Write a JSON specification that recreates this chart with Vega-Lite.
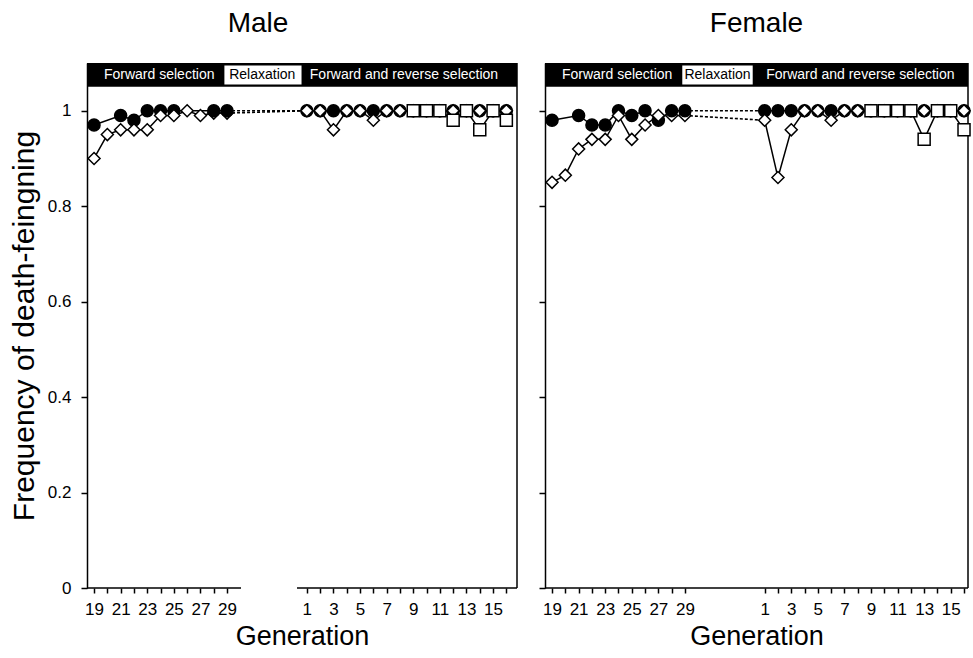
{
  "$schema": "https://vega.github.io/schema/vega-lite/v6.json",
  "padding": {"left": 9, "top": 10, "right": 2, "bottom": 2},
  "datasets": {
    "pts": [
      {"sex":"Male","series":"A","phase":"FS","generation":19,"step":0,"freq":0.97},
      {"sex":"Male","series":"A","phase":"FS","generation":21,"step":2,"freq":0.99},
      {"sex":"Male","series":"A","phase":"FS","generation":22,"step":3,"freq":0.98},
      {"sex":"Male","series":"A","phase":"FS","generation":23,"step":4,"freq":1.0},
      {"sex":"Male","series":"A","phase":"FS","generation":24,"step":5,"freq":1.0},
      {"sex":"Male","series":"A","phase":"FS","generation":25,"step":6,"freq":1.0},
      {"sex":"Male","series":"A","phase":"FRS","generation":1,"step":16,"freq":1.0},
      {"sex":"Male","series":"A","phase":"FRS","generation":2,"step":17,"freq":1.0},
      {"sex":"Male","series":"A","phase":"FRS","generation":3,"step":18,"freq":1.0},
      {"sex":"Male","series":"A","phase":"FRS","generation":4,"step":19,"freq":1.0},
      {"sex":"Male","series":"A","phase":"FRS","generation":5,"step":20,"freq":1.0},
      {"sex":"Male","series":"A","phase":"FRS","generation":6,"step":21,"freq":1.0},
      {"sex":"Male","series":"A","phase":"FRS","generation":7,"step":22,"freq":1.0},
      {"sex":"Male","series":"A","phase":"FRS","generation":8,"step":23,"freq":1.0},
      {"sex":"Male","series":"A","phase":"FRS","generation":9,"step":24,"freq":1.0},
      {"sex":"Male","series":"A","phase":"FRS","generation":10,"step":25,"freq":1.0},
      {"sex":"Male","series":"A","phase":"FRS","generation":11,"step":26,"freq":1.0},
      {"sex":"Male","series":"A","phase":"FRS","generation":12,"step":27,"freq":1.0},
      {"sex":"Male","series":"A","phase":"FRS","generation":13,"step":28,"freq":1.0},
      {"sex":"Male","series":"A","phase":"FRS","generation":14,"step":29,"freq":1.0},
      {"sex":"Male","series":"A","phase":"FRS","generation":15,"step":30,"freq":1.0},
      {"sex":"Male","series":"A","phase":"FRS","generation":16,"step":31,"freq":1.0},
      {"sex":"Male","series":"B","phase":"FS","generation":19,"step":0,"freq":0.90},
      {"sex":"Male","series":"B","phase":"FS","generation":20,"step":1,"freq":0.95},
      {"sex":"Male","series":"B","phase":"FS","generation":21,"step":2,"freq":0.96},
      {"sex":"Male","series":"B","phase":"FS","generation":22,"step":3,"freq":0.96},
      {"sex":"Male","series":"B","phase":"FS","generation":23,"step":4,"freq":0.96},
      {"sex":"Male","series":"B","phase":"FS","generation":24,"step":5,"freq":0.99},
      {"sex":"Male","series":"B","phase":"FS","generation":25,"step":6,"freq":0.99},
      {"sex":"Male","series":"B","phase":"FS","generation":26,"step":7,"freq":1.0},
      {"sex":"Male","series":"B","phase":"FS","generation":27,"step":8,"freq":0.99},
      {"sex":"Male","series":"B","phase":"FS","generation":28,"step":9,"freq":0.995},
      {"sex":"Male","series":"B","phase":"FS","generation":29,"step":10,"freq":0.995},
      {"sex":"Male","series":"B","phase":"FRS","generation":1,"step":16,"freq":1.0},
      {"sex":"Male","series":"B","phase":"FRS","generation":2,"step":17,"freq":1.0},
      {"sex":"Male","series":"B","phase":"FRS","generation":3,"step":18,"freq":0.96},
      {"sex":"Male","series":"B","phase":"FRS","generation":4,"step":19,"freq":1.0},
      {"sex":"Male","series":"B","phase":"FRS","generation":5,"step":20,"freq":1.0},
      {"sex":"Male","series":"B","phase":"FRS","generation":6,"step":21,"freq":0.98},
      {"sex":"Male","series":"B","phase":"FRS","generation":7,"step":22,"freq":1.0},
      {"sex":"Male","series":"B","phase":"FRS","generation":8,"step":23,"freq":1.0},
      {"sex":"Male","series":"B","phase":"FRS","generation":9,"step":24,"freq":1.0},
      {"sex":"Male","series":"B","phase":"FRS","generation":10,"step":25,"freq":1.0},
      {"sex":"Male","series":"B","phase":"FRS","generation":11,"step":26,"freq":1.0},
      {"sex":"Male","series":"B","phase":"FRS","generation":12,"step":27,"freq":1.0},
      {"sex":"Male","series":"B","phase":"FRS","generation":13,"step":28,"freq":1.0},
      {"sex":"Male","series":"B","phase":"FRS","generation":14,"step":29,"freq":1.0},
      {"sex":"Male","series":"B","phase":"FRS","generation":15,"step":30,"freq":1.0},
      {"sex":"Male","series":"B","phase":"FRS","generation":16,"step":31,"freq":1.0},
      {"sex":"Male","series":"C","phase":"FRS","generation":9,"step":24,"freq":1.0},
      {"sex":"Male","series":"C","phase":"FRS","generation":10,"step":25,"freq":1.0},
      {"sex":"Male","series":"C","phase":"FRS","generation":11,"step":26,"freq":1.0},
      {"sex":"Male","series":"C","phase":"FRS","generation":12,"step":27,"freq":0.98},
      {"sex":"Male","series":"C","phase":"FRS","generation":13,"step":28,"freq":1.0},
      {"sex":"Male","series":"C","phase":"FRS","generation":14,"step":29,"freq":0.96},
      {"sex":"Male","series":"C","phase":"FRS","generation":15,"step":30,"freq":1.0},
      {"sex":"Male","series":"C","phase":"FRS","generation":16,"step":31,"freq":0.98},
      {"sex":"Male","series":"A","phase":"FS","generation":28,"step":9,"freq":1.0},
      {"sex":"Male","series":"A","phase":"FS","generation":29,"step":10,"freq":1.0},

      {"sex":"Female","series":"A","phase":"FS","generation":19,"step":0,"freq":0.98},
      {"sex":"Female","series":"A","phase":"FS","generation":21,"step":2,"freq":0.99},
      {"sex":"Female","series":"A","phase":"FS","generation":22,"step":3,"freq":0.97},
      {"sex":"Female","series":"A","phase":"FS","generation":23,"step":4,"freq":0.97},
      {"sex":"Female","series":"A","phase":"FS","generation":24,"step":5,"freq":1.0},
      {"sex":"Female","series":"A","phase":"FS","generation":25,"step":6,"freq":0.99},
      {"sex":"Female","series":"A","phase":"FS","generation":26,"step":7,"freq":1.0},
      {"sex":"Female","series":"A","phase":"FS","generation":27,"step":8,"freq":0.98},
      {"sex":"Female","series":"A","phase":"FRS","generation":1,"step":16,"freq":1.0},
      {"sex":"Female","series":"A","phase":"FRS","generation":2,"step":17,"freq":1.0},
      {"sex":"Female","series":"A","phase":"FRS","generation":3,"step":18,"freq":1.0},
      {"sex":"Female","series":"A","phase":"FRS","generation":4,"step":19,"freq":1.0},
      {"sex":"Female","series":"A","phase":"FRS","generation":5,"step":20,"freq":1.0},
      {"sex":"Female","series":"A","phase":"FRS","generation":6,"step":21,"freq":1.0},
      {"sex":"Female","series":"A","phase":"FRS","generation":7,"step":22,"freq":1.0},
      {"sex":"Female","series":"A","phase":"FRS","generation":8,"step":23,"freq":1.0},
      {"sex":"Female","series":"A","phase":"FRS","generation":9,"step":24,"freq":1.0},
      {"sex":"Female","series":"A","phase":"FRS","generation":10,"step":25,"freq":1.0},
      {"sex":"Female","series":"A","phase":"FRS","generation":11,"step":26,"freq":1.0},
      {"sex":"Female","series":"A","phase":"FRS","generation":12,"step":27,"freq":1.0},
      {"sex":"Female","series":"A","phase":"FRS","generation":13,"step":28,"freq":1.0},
      {"sex":"Female","series":"A","phase":"FRS","generation":14,"step":29,"freq":1.0},
      {"sex":"Female","series":"A","phase":"FRS","generation":15,"step":30,"freq":1.0},
      {"sex":"Female","series":"A","phase":"FRS","generation":16,"step":31,"freq":1.0},
      {"sex":"Female","series":"B","phase":"FS","generation":19,"step":0,"freq":0.85},
      {"sex":"Female","series":"B","phase":"FS","generation":20,"step":1,"freq":0.865},
      {"sex":"Female","series":"B","phase":"FS","generation":21,"step":2,"freq":0.92},
      {"sex":"Female","series":"B","phase":"FS","generation":22,"step":3,"freq":0.94},
      {"sex":"Female","series":"B","phase":"FS","generation":23,"step":4,"freq":0.94},
      {"sex":"Female","series":"B","phase":"FS","generation":24,"step":5,"freq":0.99},
      {"sex":"Female","series":"B","phase":"FS","generation":25,"step":6,"freq":0.94},
      {"sex":"Female","series":"B","phase":"FS","generation":26,"step":7,"freq":0.97},
      {"sex":"Female","series":"B","phase":"FS","generation":27,"step":8,"freq":0.99},
      {"sex":"Female","series":"B","phase":"FS","generation":28,"step":9,"freq":0.99},
      {"sex":"Female","series":"B","phase":"FS","generation":29,"step":10,"freq":0.99},
      {"sex":"Female","series":"B","phase":"FRS","generation":1,"step":16,"freq":0.98},
      {"sex":"Female","series":"B","phase":"FRS","generation":2,"step":17,"freq":0.86},
      {"sex":"Female","series":"B","phase":"FRS","generation":3,"step":18,"freq":0.96},
      {"sex":"Female","series":"B","phase":"FRS","generation":4,"step":19,"freq":1.0},
      {"sex":"Female","series":"B","phase":"FRS","generation":5,"step":20,"freq":1.0},
      {"sex":"Female","series":"B","phase":"FRS","generation":6,"step":21,"freq":0.98},
      {"sex":"Female","series":"B","phase":"FRS","generation":7,"step":22,"freq":1.0},
      {"sex":"Female","series":"B","phase":"FRS","generation":8,"step":23,"freq":1.0},
      {"sex":"Female","series":"B","phase":"FRS","generation":9,"step":24,"freq":1.0},
      {"sex":"Female","series":"B","phase":"FRS","generation":10,"step":25,"freq":1.0},
      {"sex":"Female","series":"B","phase":"FRS","generation":11,"step":26,"freq":1.0},
      {"sex":"Female","series":"B","phase":"FRS","generation":12,"step":27,"freq":1.0},
      {"sex":"Female","series":"B","phase":"FRS","generation":13,"step":28,"freq":1.0},
      {"sex":"Female","series":"B","phase":"FRS","generation":14,"step":29,"freq":1.0},
      {"sex":"Female","series":"B","phase":"FRS","generation":15,"step":30,"freq":1.0},
      {"sex":"Female","series":"B","phase":"FRS","generation":16,"step":31,"freq":1.0},
      {"sex":"Female","series":"C","phase":"FRS","generation":9,"step":24,"freq":1.0},
      {"sex":"Female","series":"C","phase":"FRS","generation":10,"step":25,"freq":1.0},
      {"sex":"Female","series":"C","phase":"FRS","generation":11,"step":26,"freq":1.0},
      {"sex":"Female","series":"C","phase":"FRS","generation":12,"step":27,"freq":1.0},
      {"sex":"Female","series":"C","phase":"FRS","generation":13,"step":28,"freq":0.94},
      {"sex":"Female","series":"C","phase":"FRS","generation":14,"step":29,"freq":1.0},
      {"sex":"Female","series":"C","phase":"FRS","generation":15,"step":30,"freq":1.0},
      {"sex":"Female","series":"C","phase":"FRS","generation":16,"step":31,"freq":0.96},
      {"sex":"Female","series":"A","phase":"FS","generation":28,"step":9,"freq":1.0},
      {"sex":"Female","series":"A","phase":"FS","generation":29,"step":10,"freq":1.0}
    ]
  },
  "hconcat": [
    {
      "width": 430,
      "height": 525,
      "title": {"text": "Male", "dx": -44},
      "layer": [
        {
          "data": {"values": [{}]},
          "mark": {"type": "rect", "color": "black"},
          "encoding": {
            "x": {"datum": -0.53, "type": "quantitative",
              "scale": {"domain": [-0.53, 31.8], "nice": false, "zero": false},
              "axis": {"title": "Generation", "values": [0,1,2,3,4,5,6,7,8,9,10,16,17,18,19,20,21,22,23,24,25,26,27,28,29,30,31],
                "tickCount": 60,
                "labelExpr": "datum.value % 2 == 0 ? (datum.value <= 10 ? '' + (datum.value + 19) : '' + (datum.value - 15)) : ''",
                "domain": false, "tickSize": 5, "labelPadding": 8, "titlePadding": 6, "labelFontSize": 17}},
            "x2": {"datum": 31.8},
            "y": {"datum": 1.05, "type": "quantitative",
              "scale": {"domain": [0, 1.1], "nice": false, "zero": true},
              "axis": {"title": "Frequency of death-feingning", "values": [0, 0.2, 0.4, 0.6, 0.8, 1],
                "labelExpr": "'' + datum.value", "tickSize": 6, "labelPadding": 10, "titlePadding": 8, "labelFontSize": 17, "titleFontSize": 30}},
            "y2": {"datum": 1.1}
          }
        },
        {
          "data": {"values": [{}]},
          "mark": {"type": "rect", "color": "white"},
          "encoding": {
            "x": {"datum": 9.8, "type": "quantitative"}, "x2": {"datum": 15.6},
            "y": {"datum": 1.055, "type": "quantitative"}, "y2": {"datum": 1.095}
          }
        },
        {
          "data": {"values": [{}]},
          "mark": {"type": "text", "color": "white", "fontSize": 14, "font": "Liberation Sans", "baseline": "middle", "text": "Forward selection"},
          "encoding": {"x": {"datum": 4.9, "type": "quantitative"}, "y": {"datum": 1.075, "type": "quantitative"}}
        },
        {
          "data": {"values": [{}]},
          "mark": {"type": "text", "color": "black", "fontSize": 14, "font": "Liberation Sans", "baseline": "middle", "text": "Relaxation"},
          "encoding": {"x": {"datum": 12.65, "type": "quantitative"}, "y": {"datum": 1.075, "type": "quantitative"}}
        },
        {
          "data": {"values": [{}]},
          "mark": {"type": "text", "color": "white", "fontSize": 14, "font": "Liberation Sans", "baseline": "middle", "text": "Forward and reverse selection"},
          "encoding": {"x": {"datum": 23.3, "type": "quantitative"}, "y": {"datum": 1.075, "type": "quantitative"}}
        },
        {
          "data": {"values": [{}]},
          "mark": {"type": "rule", "color": "black", "strokeWidth": 1.5},
          "encoding": {"x": {"datum": 31.8, "type": "quantitative"}, "y": {"datum": 0, "type": "quantitative"}, "y2": {"datum": 1.1}}
        },
        {
          "data": {"values": [{}]},
          "mark": {"type": "rule", "color": "black", "strokeWidth": 1.5},
          "encoding": {"x": {"datum": -0.53, "type": "quantitative"}, "x2": {"datum": 11.05}, "y": {"datum": 0, "type": "quantitative"}}
        },
        {
          "data": {"values": [{}]},
          "mark": {"type": "rule", "color": "black", "strokeWidth": 1.5},
          "encoding": {"x": {"datum": 15.26, "type": "quantitative"}, "x2": {"datum": 31.8}, "y": {"datum": 0, "type": "quantitative"}}
        },
        {
          "data": {"name": "pts"},
          "transform": [{"filter": "datum.sex == 'Male'"}],
          "mark": {"type": "line", "color": "black", "strokeWidth": 1.5},
          "encoding": {
            "x": {"field": "step", "type": "quantitative"},
            "y": {"field": "freq", "type": "quantitative"},
            "detail": [{"field": "series"}, {"field": "phase"}]
          }
        },
        {
          "data": {"name": "pts"},
          "transform": [{"filter": "datum.sex == 'Male' && ((datum.phase == 'FS' && datum.generation == 29) || (datum.phase == 'FRS' && datum.generation == 1))"}],
          "mark": {"type": "line", "color": "black", "strokeWidth": 1.6, "strokeDash": [3, 2]},
          "encoding": {
            "x": {"field": "step", "type": "quantitative"},
            "y": {"field": "freq", "type": "quantitative"},
            "detail": {"field": "series"}
          }
        },
        {
          "data": {"name": "pts"},
          "transform": [{"filter": "datum.sex == 'Male'"}],
          "mark": {"type": "point", "filled": true, "opacity": 1, "size": 144, "stroke": "black", "strokeWidth": 1.5},
          "encoding": {
            "x": {"field": "step", "type": "quantitative"},
            "y": {"field": "freq", "type": "quantitative"},
            "shape": {"field": "series", "type": "nominal", "scale": {"domain": ["A", "B", "C"], "range": ["circle", "diamond", "square"]}, "legend": null},
            "fill": {"field": "series", "type": "nominal", "scale": {"domain": ["A", "B", "C"], "range": ["black", "white", "white"]}, "legend": null}
          }
        }
      ]
    },
    {
      "width": 423,
      "height": 525,
      "title": {"text": "Female"},
      "layer": [
        {
          "data": {"values": [{}]},
          "mark": {"type": "rect", "color": "black"},
          "encoding": {
            "x": {"datum": -0.53, "type": "quantitative",
              "scale": {"domain": [-0.53, 31.3], "nice": false, "zero": false},
              "axis": {"title": "Generation", "values": [0,1,2,3,4,5,6,7,8,9,10,16,17,18,19,20,21,22,23,24,25,26,27,28,29,30,31],
                "tickCount": 60,
                "labelExpr": "datum.value % 2 == 0 ? (datum.value <= 10 ? '' + (datum.value + 19) : '' + (datum.value - 15)) : ''",
                "domain": false, "tickSize": 5, "labelPadding": 8, "titlePadding": 6, "labelFontSize": 17}},
            "x2": {"datum": 31.3},
            "y": {"datum": 1.05, "type": "quantitative",
              "scale": {"domain": [0, 1.1], "nice": false, "zero": true},
              "axis": {"title": null, "labels": false, "values": [0, 0.2, 0.4, 0.6, 0.8, 1], "tickSize": 6}},
            "y2": {"datum": 1.1}
          }
        },
        {
          "data": {"values": [{}]},
          "mark": {"type": "rect", "color": "white"},
          "encoding": {
            "x": {"datum": 9.8, "type": "quantitative"}, "x2": {"datum": 15.1},
            "y": {"datum": 1.055, "type": "quantitative"}, "y2": {"datum": 1.095}
          }
        },
        {
          "data": {"values": [{}]},
          "mark": {"type": "text", "color": "white", "fontSize": 14, "font": "Liberation Sans", "baseline": "middle", "text": "Forward selection"},
          "encoding": {"x": {"datum": 4.9, "type": "quantitative"}, "y": {"datum": 1.075, "type": "quantitative"}}
        },
        {
          "data": {"values": [{}]},
          "mark": {"type": "text", "color": "black", "fontSize": 14, "font": "Liberation Sans", "baseline": "middle", "text": "Relaxation"},
          "encoding": {"x": {"datum": 12.45, "type": "quantitative"}, "y": {"datum": 1.075, "type": "quantitative"}}
        },
        {
          "data": {"values": [{}]},
          "mark": {"type": "text", "color": "white", "fontSize": 14, "font": "Liberation Sans", "baseline": "middle", "text": "Forward and reverse selection"},
          "encoding": {"x": {"datum": 23.2, "type": "quantitative"}, "y": {"datum": 1.075, "type": "quantitative"}}
        },
        {
          "data": {"values": [{}]},
          "mark": {"type": "rule", "color": "black", "strokeWidth": 1.5},
          "encoding": {"x": {"datum": 31.3, "type": "quantitative"}, "y": {"datum": 0, "type": "quantitative"}, "y2": {"datum": 1.1}}
        },
        {
          "data": {"values": [{}]},
          "mark": {"type": "rule", "color": "black", "strokeWidth": 1.5},
          "encoding": {"x": {"datum": -0.53, "type": "quantitative"}, "x2": {"datum": 31.3}, "y": {"datum": 0, "type": "quantitative"}}
        },
        {
          "data": {"name": "pts"},
          "transform": [{"filter": "datum.sex == 'Female'"}],
          "mark": {"type": "line", "color": "black", "strokeWidth": 1.5},
          "encoding": {
            "x": {"field": "step", "type": "quantitative"},
            "y": {"field": "freq", "type": "quantitative"},
            "detail": [{"field": "series"}, {"field": "phase"}]
          }
        },
        {
          "data": {"name": "pts"},
          "transform": [{"filter": "datum.sex == 'Female' && ((datum.phase == 'FS' && datum.generation == 29) || (datum.phase == 'FRS' && datum.generation == 1))"}],
          "mark": {"type": "line", "color": "black", "strokeWidth": 1.6, "strokeDash": [3, 2]},
          "encoding": {
            "x": {"field": "step", "type": "quantitative"},
            "y": {"field": "freq", "type": "quantitative"},
            "detail": {"field": "series"}
          }
        },
        {
          "data": {"name": "pts"},
          "transform": [{"filter": "datum.sex == 'Female'"}],
          "mark": {"type": "point", "filled": true, "opacity": 1, "size": 144, "stroke": "black", "strokeWidth": 1.5},
          "encoding": {
            "x": {"field": "step", "type": "quantitative"},
            "y": {"field": "freq", "type": "quantitative"},
            "shape": {"field": "series", "type": "nominal", "scale": {"domain": ["A", "B", "C"], "range": ["circle", "diamond", "square"]}, "legend": null},
            "fill": {"field": "series", "type": "nominal", "scale": {"domain": ["A", "B", "C"], "range": ["black", "white", "white"]}, "legend": null}
          }
        }
      ]
    }
  ],
  "spacing": 20,
  "resolve": {"scale": {"x": "independent"}},
  "config": {
    "view": {"stroke": null},
    "font": "Liberation Sans",
    "title": {"fontSize": 28, "font": "Liberation Sans", "fontWeight": "normal", "offset": 24, "color": "black", "anchor": "middle"},
    "axis": {
      "labelFont": "Liberation Sans", "titleFont": "Liberation Sans",
      "titleFontSize": 27, "titleFontWeight": "normal", "titleColor": "black",
      "labelColor": "black", "tickColor": "black", "domainColor": "black",
      "tickWidth": 1.5, "domainWidth": 1.5, "grid": false,
      "labelOverlap": false, "labelFlush": false
    }
  }
}
